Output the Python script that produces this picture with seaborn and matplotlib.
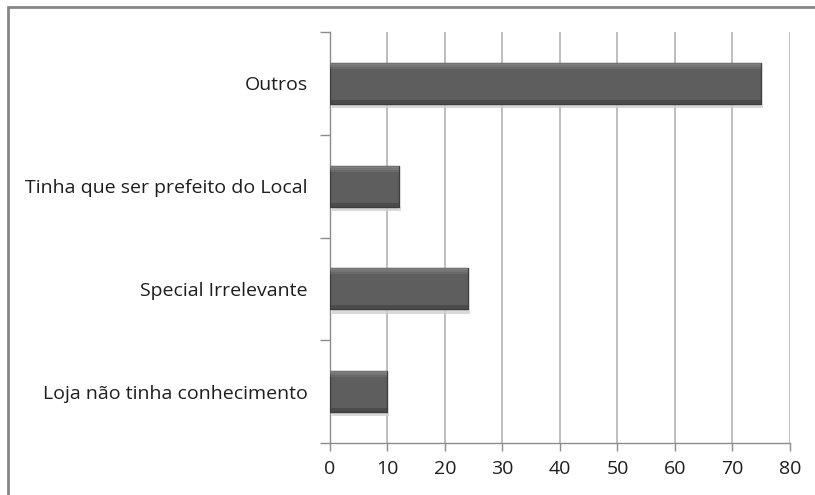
import matplotlib
matplotlib.use("Agg")
import matplotlib.pyplot as plt
import seaborn as sns
import pandas as pd
from matplotlib.patches import Rectangle
from matplotlib.ticker import FixedLocator

categories = ["Outros", "Tinha que ser prefeito do Local", "Special Irrelevante", "Loja não tinha conhecimento"]
values = [75, 12, 24, 10]
x_ticks = [0, 10, 20, 30, 40, 50, 60, 70, 80]

df = pd.DataFrame({"categoria": categories, "valor": values})

sns.set_style("white")
plt.rcParams["font.family"] = ["Open Sans", "DejaVu Sans"]

fig = plt.figure(figsize=(8.15, 4.95), dpi=100)
ax = fig.add_axes([0.4049, 0.105, 0.5644, 0.8304])

sns.barplot(data=df, x="valor", y="categoria", order=categories, orient="h",
            color="#5e5e5e", width=0.4, saturation=1, ax=ax, zorder=3)

# bevel-like shading on each bar
for p in ax.patches:
    p.set_edgecolor("#3e3e3e")
    p.set_linewidth(1.0)
    x0, y0 = p.get_x(), p.get_y()
    w, h = p.get_width(), p.get_height()
    for k, a in enumerate([0.55, 0.35, 0.18]):
        ax.add_patch(Rectangle((x0, y0 + k * h * 0.05), w, h * 0.05,
                               facecolor="#a0a0a0", edgecolor="none",
                               zorder=3.5, alpha=a))
    ax.add_patch(Rectangle((x0, y0 + h * 0.9), w, h * 0.1, facecolor="#3a3a3a",
                           edgecolor="none", zorder=3.5, alpha=0.5))
    ax.add_patch(Rectangle((x0 + 0.3, y0 + h), w, 0.04, facecolor="#d0d0d0",
                           edgecolor="none", zorder=2.5, alpha=0.8))

ax.set_xlim(0, 80)
ax.set_ylim(len(categories) - 0.5, -0.5)
ax.xaxis.set_major_locator(FixedLocator(x_ticks))
ax.set_xticklabels([str(t) for t in x_ticks])
ax.xaxis.grid(True, color="#b3b3b3", linewidth=1.2, zorder=0)
ax.set_axisbelow(True)

ax.set_xlabel("")
ax.set_ylabel("")

for side in ["top", "right"]:
    ax.spines[side].set_visible(False)
for side in ["left", "bottom"]:
    ax.spines[side].set_color("#8c8c8c")
    ax.spines[side].set_linewidth(1.0)

ax.tick_params(axis="x", which="major", length=6, color="#8c8c8c", width=1.0,
               labelsize=14, labelcolor="#1e1e1e", pad=6, direction="out", bottom=True)
ax.tick_params(axis="y", which="major", length=0, labelsize=14,
               labelcolor="#1e1e1e", pad=16)
ax.yaxis.set_minor_locator(FixedLocator([-0.5, 0.5, 1.5, 2.5, 3.5]))
ax.tick_params(axis="y", which="minor", length=7, color="#8c8c8c", width=1.0, left=True)

# chart frame
fig.patches.append(Rectangle((8 / 815, -0.1), 1.2, 1 - 7 / 495 + 0.1,
                             transform=fig.transFigure, fill=False,
                             edgecolor="#878787", linewidth=2.0))

fig.savefig("out.png", dpi=100)
